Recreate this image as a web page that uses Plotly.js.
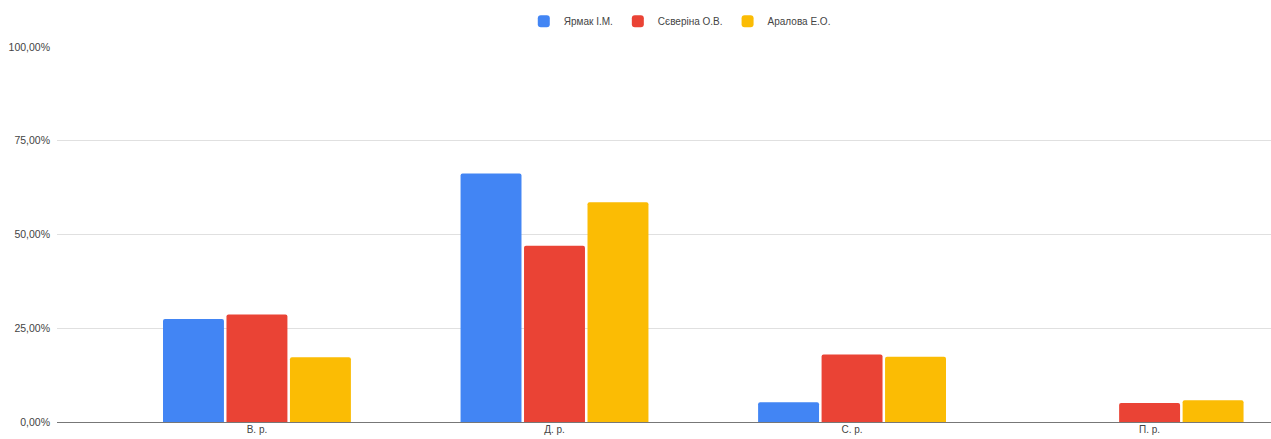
<!DOCTYPE html>
<html><head><meta charset="utf-8">
<script src="https://cdn.plot.ly/plotly-3.0.1.min.js"></script>
<style>html,body{margin:0;padding:0;background:#fff}#chart{width:1271px;height:439px}</style>
</head><body><div id="chart"></div>
<script>
const categories = ['В. р.', 'Д. р.', 'С. р.', 'П. р.'];
const seriesNames = ['Ярмак І.М.', 'Сєверіна О.В.', 'Аралова Е.О.'];
const yarmak = [0.275, 0.663, 0.053, 0];
const severina = [0.287, 0.470, 0.180, 0.051];
const aralova = [0.173, 0.586, 0.174, 0.058];
const colors = ['#4285f4', '#ea4335', '#fbbc04'];
const values = [yarmak, severina, aralova];

const traces = values.map((v, i) => ({
  type: 'bar', x: categories, y: v, name: seriesNames[i],
  marker: {color: colors[i]}, hoverinfo: 'none'
}));

const layout = {
  width: 1271, height: 439,
  margin: {l: 57, r: 0, t: 47, b: 17},
  paper_bgcolor: '#fff', plot_bgcolor: '#fff',
  separators: ', ',
  font: {family: 'Liberation Sans, Arial, sans-serif', size: 10, color: '#444'},
  barmode: 'group', bargap: 0.36, bargroupgap: 0.04, barcornerradius: 2,
  showlegend: true,
  legend: {orientation: 'h', x: 0.513, xanchor: 'center', y: 1.069, yanchor: 'middle',
           yref: 'paper', font: {size: 10, color: '#444'}, itemwidth: 30, traceorder: 'normal'},
  xaxis: {type: 'category', range: [-0.672, 3.408], showgrid: false, zeroline: false,
          showline: false, ticks: '', tickfont: {size: 10, color: '#444'}, fixedrange: true},
  yaxis: {range: [0, 1], tickvals: [0, 0.25, 0.5, 0.75, 1], tickformat: '.2%',
          gridcolor: '#e0e0e0', zeroline: true, zerolinecolor: '#777', zerolinewidth: 1,
          showline: false, ticks: '', ticklen: 0, ticklabelstandoff: 6,
          tickfont: {size: 10.5, color: '#444'}, fixedrange: true}
};
Plotly.newPlot('chart', traces, layout, {displayModeBar: false, staticPlot: true});
</script></body></html>
